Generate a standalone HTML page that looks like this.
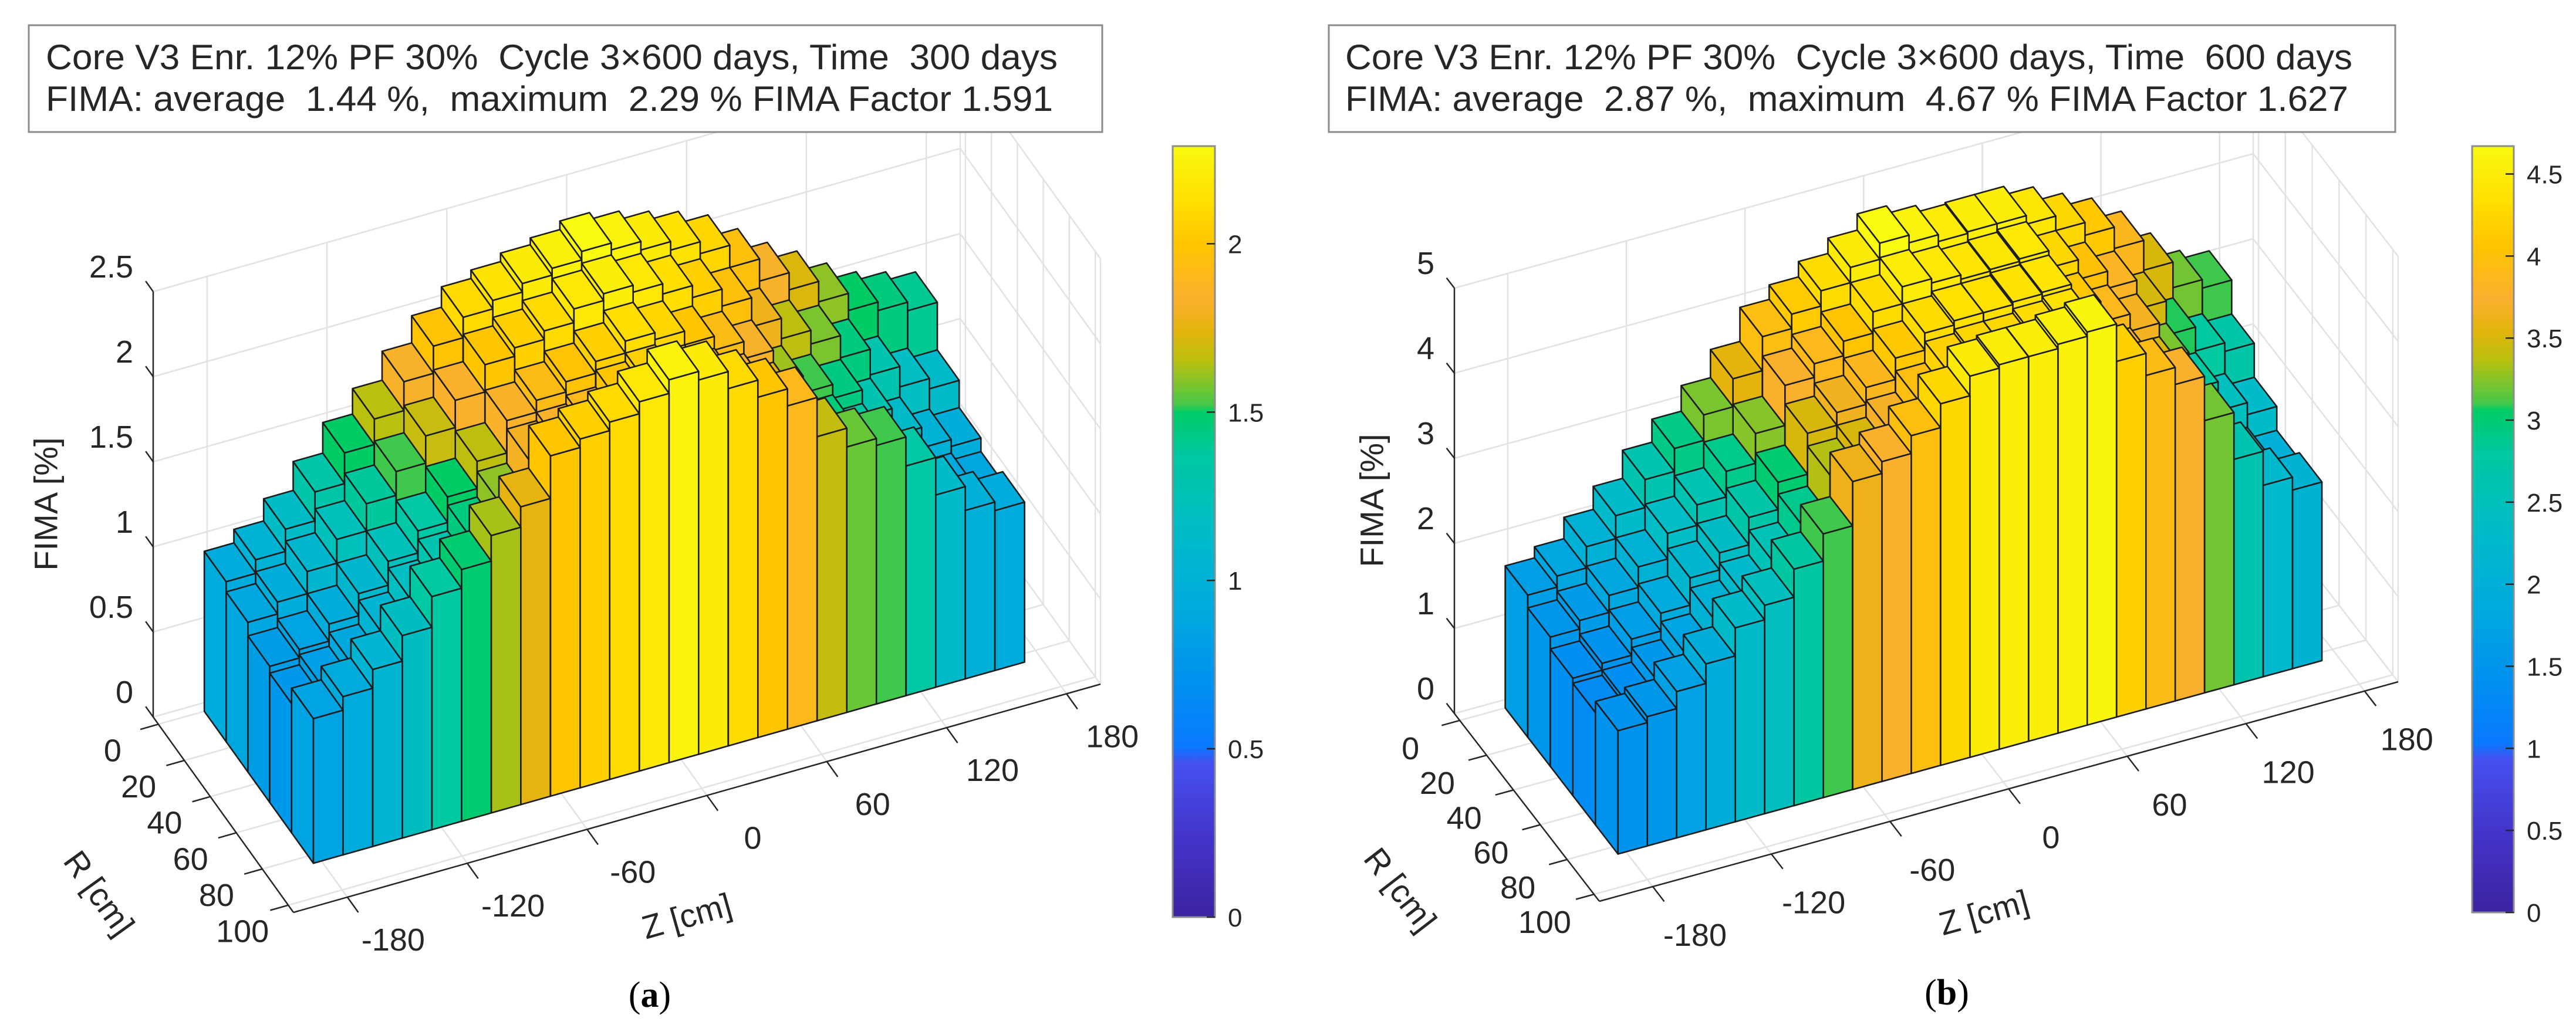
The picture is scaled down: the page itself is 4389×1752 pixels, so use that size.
<!DOCTYPE html>
<html><head><meta charset="utf-8">
<style>
html,body{margin:0;padding:0;background:#fff;}
svg{display:block;font-family:"Liberation Sans",Arial,sans-serif;}
</style></head>
<body>
<svg id="fig" width="4389" height="1752" viewBox="0 0 4389 1752" xmlns="http://www.w3.org/2000/svg">
<defs>
<linearGradient id="cmapGrad" x1="0" y1="1" x2="0" y2="0">
<stop offset="0" stop-color="#3d23a0"/><stop offset="0.1" stop-color="#4333c8"/><stop offset="0.2" stop-color="#4650f0"/>
<stop offset="0.22" stop-color="#0a78ff"/><stop offset="0.3" stop-color="#0090f0"/><stop offset="0.4" stop-color="#00aadd"/>
<stop offset="0.5" stop-color="#00bcc8"/><stop offset="0.6" stop-color="#00c8a0"/><stop offset="0.655" stop-color="#00cc66"/>
<stop offset="0.665" stop-color="#48c848"/><stop offset="0.72" stop-color="#b8c010"/><stop offset="0.76" stop-color="#e4b40c"/>
<stop offset="0.8" stop-color="#fbb030"/><stop offset="0.87" stop-color="#ffc400"/><stop offset="0.93" stop-color="#ffe000"/>
<stop offset="1" stop-color="#f8fa10"/>
</linearGradient>
</defs>
<g id="panelA"></g>
<g id="panelB"></g>
<text x="1107" y="1716" text-anchor="middle" font-family="Liberation Serif, serif" font-size="62">(<tspan font-weight="bold">a</tspan>)</text>
<text x="3317" y="1712" text-anchor="middle" font-family="Liberation Serif, serif" font-size="62">(<tspan font-weight="bold">b</tspan>)</text>
</svg>
<script>
// ---- data ----
const zCenters=[-176.6,-161.8,-146.9,-132.1,-117.3,-102.4,-87.6,-72.8,-57.9,-43.1,-28.3,-13.4,1.4,16.2,31.1,45.9,60.7,75.6,90.4,105.2,120.1,134.9,149.7,164.6];
const rCenters=[8.4,25.2,42,58.8,75.6];
const zTicks=[-180,-120,-60,0,60,120,180];
const rTicks=[0,20,40,60,80,100];
const hTicksA=[0,0.5,1,1.5,2,2.5];
const hTicksB=[0,1,2,3,4,5];
const cbTicksA=[0,0.5,1,1.5,2];
const cbTicksB=[0,0.5,1,1.5,2,2.5,3,3.5,4,4.5];
const aRow0=[0.94,1.02,1.15,1.32,1.50,1.65,1.82,1.98,2.10,2.15,2.20,2.24,2.29,2.25,2.20,2.15,2.08,1.95,1.82,1.72,1.60,1.50,1.45,1.40];
const aRow1=[0.88,0.95,1.08,1.22,1.38,1.52,1.68,1.84,2.00,2.05,2.10,2.18,2.22,2.18,2.12,2.05,1.95,1.78,1.66,1.58,1.45,1.30,1.18,1.12];
const aRow2=[0.80,0.85,0.95,1.08,1.22,1.35,1.50,1.66,1.85,1.92,1.98,2.05,2.12,2.08,2.00,1.92,1.82,1.62,1.52,1.44,1.28,1.12,1.00,0.96];
const aRow3=[0.76,0.82,0.90,1.04,1.18,1.30,1.45,1.60,1.80,1.85,1.90,2.00,2.05,2.00,1.93,1.85,1.75,1.56,1.46,1.36,1.22,1.05,0.92,0.88];
const aRow4=[0.85,0.93,1.04,1.19,1.37,1.48,1.63,1.75,2.00,2.05,2.10,2.17,2.25,2.20,2.10,2.00,1.90,1.67,1.56,1.52,1.35,1.13,0.99,0.94];
const bRow0=[1.67,1.80,2.05,2.32,2.65,2.92,3.22,3.55,3.95,4.12,4.30,4.48,4.67,4.58,4.50,4.52,4.52,4.42,4.25,4.10,3.85,3.50,3.20,3.10];
const bRow1=[1.52,1.62,1.82,2.06,2.36,2.60,2.90,3.25,3.72,3.88,4.05,4.30,4.50,4.45,4.40,4.42,4.45,4.25,4.02,3.82,3.48,3.08,2.80,2.70];
const bRow2=[1.38,1.46,1.65,1.86,2.18,2.38,2.70,3.02,3.50,3.65,3.85,4.10,4.30,4.35,4.35,4.38,4.40,4.10,3.86,3.66,3.22,2.78,2.44,2.30];
const bRow3=[1.32,1.38,1.55,1.76,2.06,2.26,2.55,2.88,3.35,3.50,3.70,3.95,4.20,4.25,4.25,4.30,4.35,3.95,3.70,3.50,3.00,2.50,2.15,2.02];
const bRow4=[1.45,1.52,1.72,1.95,2.28,2.45,2.78,3.10,3.62,3.76,3.97,4.25,4.48,4.52,4.52,4.57,4.62,4.18,3.92,3.72,3.20,2.65,2.25,2.10];

const NS="http://www.w3.org/2000/svg";
const cStops=[[0,"#3d23a0"],[0.1,"#4333c8"],[0.2,"#4650f0"],[0.22,"#0a78ff"],[0.3,"#0090f0"],[0.4,"#00aadd"],[0.5,"#00bcc8"],[0.6,"#00c8a0"],[0.655,"#00cc66"],[0.665,"#48c848"],[0.72,"#b8c010"],[0.76,"#e4b40c"],[0.8,"#fbb030"],[0.87,"#ffc400"],[0.93,"#ffe000"],[1,"#f8fa10"]];
function hx(s){return [parseInt(s.substr(1,2),16),parseInt(s.substr(3,2),16),parseInt(s.substr(5,2),16)];}
function cmap(t){t=Math.max(0,Math.min(1,t));
 for(let i=1;i<cStops.length;i++){if(t<=cStops[i][0]){const a=cStops[i-1],b=cStops[i];const f=(t-a[0])/(b[0]-a[0]);const ca=hx(a[1]),cb=hx(b[1]);
  return "rgb("+ca.map((v,k)=>Math.round(v+(cb[k]-v)*f)).join(",")+")";}}
 return cStops[cStops.length-1][1];}
function mk(tag,parent,o){const e=document.createElementNS(NS,tag);for(const k in o)e.setAttribute(k,o[k]);parent.appendChild(e);return e;}

function drawPanel(g,cfg,rows,hTicks,cbTicks){
 const zlo=-207,zhi=197,rlo=-4,rhi=104,zw=14.83,rw=16.8;
 function P(z,r,h){const u=(z-zlo)/(zhi-zlo),v=(r-rlo)/(rhi-rlo);
  return [cfg.ox+u*cfg.uzx+v*cfg.urx, cfg.oy+u*cfg.uzy+v*cfg.ury-h*cfg.hs];}
 function pts(a){return a.map(p=>p[0].toFixed(1)+","+p[1].toFixed(1)).join(" ");}
 function line(p,q,col,w,name){const l=mk("line",g,{x1:p[0],y1:p[1],x2:q[0],y2:q[1],stroke:col,"stroke-width":w});
  
  return l;}
 const hmax=hTicks[hTicks.length-1];
 const gc="#e2e2e2";
 hTicks.forEach(h=>{line(P(zlo,rlo,h),P(zhi,rlo,h),gc,2.5,'grid-back-h');line(P(zhi,rlo,h),P(zhi,rhi,h),gc,2.5,'grid-side-h');});
 zTicks.forEach(z=>{line(P(z,rlo,0),P(z,rlo,hmax),gc,2.5,'grid-back-z');line(P(z,rlo,0),P(z,rhi,0),gc,2.5,'grid-floor-z');});
 rTicks.forEach(r=>{line(P(zhi,r,0),P(zhi,r,hmax),gc,2.5,'grid-side-r');line(P(zlo,r,0),P(zhi,r,0),gc,2.5,'grid-floor-r');});
 line(P(zhi,rlo,0),P(zhi,rlo,hmax),gc,2.5,'grid-corner');line(P(zhi,rhi,0),P(zhi,rhi,hmax),gc,2.5,'grid-corner');
 for(let j=0;j<rows.length;j++){
  for(let k=zCenters.length-1;k>=0;k--){
   const v=rows[j][k];const z0=zCenters[k]-zw/2,z1=zCenters[k]+zw/2,r0=rCenters[j]-rw/2,r1=rCenters[j]+rw/2;
   const col=cmap(v/cfg.cmax);
   const bg=mk("g",g,{fill:col,stroke:"#1c1c1c","stroke-width":2.6,"stroke-linejoin":"round"});
   
   
   mk("polygon",bg,{points:pts([P(z0,r0,0),P(z0,r1,0),P(z0,r1,v),P(z0,r0,v)])});
   mk("polygon",bg,{points:pts([P(z0,r1,0),P(z1,r1,0),P(z1,r1,v),P(z0,r1,v)])});
   mk("polygon",bg,{points:pts([P(z0,r0,v),P(z1,r0,v),P(z1,r1,v),P(z0,r1,v)])});
  }}
 const ac="#262626";
 line(P(zlo,rlo,0),P(zlo,rlo,hmax),ac,2.5,'fima-axis-line');
 line(P(zlo,rlo,0),P(zlo,rhi,0),ac,2.5,'r-axis-line');
 line(P(zlo,rhi,0),P(zhi,rhi,0),ac,2.5,'z-axis-line');
 const urL=Math.hypot(cfg.urx,cfg.ury),uzL=Math.hypot(cfg.uzx,cfg.uzy);
 const ur=[cfg.urx/urL,cfg.ury/urL],uz=[cfg.uzx/uzL,cfg.uzy/uzL];
 hTicks.forEach(h=>{const p=P(zlo,rlo,h);line(p,[p[0]-ur[0]*22,p[1]-ur[1]*22],ac,2.5,'fima-tick');
  const t=mk("text",g,{x:p[0]-34,y:p[1]-24,"text-anchor":"end","font-size":54,fill:"#262626"});t.textContent=String(h);
  
  });
 zTicks.forEach(z=>{const p=P(z,rhi,0);line(p,[p[0]+ur[0]*32,p[1]+ur[1]*32],ac,2.5,'z-tick');
  const t=mk("text",g,{x:p[0]+cfg.zlx,y:p[1]+cfg.zly+19,"text-anchor":"middle","font-size":54,fill:"#262626"});t.textContent=String(z);
  
  });
 rTicks.forEach(r=>{const p=P(zlo,r,0);line(p,[p[0]-uz[0]*32,p[1]-uz[1]*32],ac,2.5,'r-tick');
  const t=mk("text",g,{x:p[0]+cfg.rlx,y:p[1]+cfg.rly+19,"text-anchor":"middle","font-size":54,fill:"#262626"});t.textContent=String(r);
  
  });
 const at=[["FIMA [%]",cfg.fx,cfg.fy,-90,'fima-axis-title'],["R [cm]",cfg.rx,cfg.ry,Math.atan2(cfg.ury,cfg.urx)*180/Math.PI,'r-axis-title'],["Z [cm]",cfg.zx,cfg.zy,Math.atan2(cfg.uzy,cfg.uzx)*180/Math.PI,'z-axis-title']];
 at.forEach(a=>{const t=mk("text",g,{x:a[1],y:a[2],"text-anchor":"middle","dominant-baseline":"central","font-size":56,fill:"#262626",transform:"rotate("+a[3].toFixed(1)+" "+a[1]+" "+a[2]+")"});t.textContent=a[0];
  
  });
 const cb=mk("rect",g,{x:cfg.cbx,y:cfg.cby0,width:cfg.cbw,height:cfg.cby1-cfg.cby0,fill:"url(#cmapGrad)",stroke:"#8c8c8c","stroke-width":3});
 
 
 cbTicks.forEach(v=>{const y=cfg.cby1-(v/cfg.cmax)*(cfg.cby1-cfg.cby0);
  line([cfg.cbx+cfg.cbw-14,y],[cfg.cbx+cfg.cbw,y],ac,2.5,'colorbar-tick');
  const t=mk("text",g,{x:cfg.cbx+cfg.cbw+22,y:y+16,"font-size":44,fill:"#262626"});t.textContent=String(v);
  
  });
 const tb=mk("rect",g,{x:cfg.tbx,y:43,width:cfg.tbw,height:182,fill:"#fff",stroke:"#8a8a8a","stroke-width":3});
 
 
 const t1=mk("text",g,{x:cfg.tx,y:118,"font-size":60,fill:"#262626",textLength:cfg.t1w,lengthAdjust:"spacingAndGlyphs","xml:space":"preserve",style:"white-space:pre"});t1.textContent=cfg.line1;
 
 
 const t2=mk("text",g,{x:cfg.tx,y:189,"font-size":60,fill:"#262626",textLength:cfg.t2w,lengthAdjust:"spacingAndGlyphs",style:"white-space:pre"});t2.textContent=cfg.line2;
 
 
}

drawPanel(document.getElementById("panelA"),
 {ox:261,oy:1222,uzx:1375,uzy:-389,urx:239,ury:333,hs:290,cmax:2.29,zlx:78,zly:72,rlx:-78,rly:44,
  fx:78,fy:859,rx:169,ry:1522,zx:1170,zy:1561,cbx:1998,cbw:72,cby0:249,cby1:1563,
  tbx:49,tbw:1829,tx:78,t1w:1724,t2w:1716,
  line1:"Core V3 Enr. 12% PF 30%  Cycle 3×600 days, Time  300 days",
  line2:"FIMA: average  1.44 %,  maximum  2.29 % FIMA Factor 1.591"},
 [aRow0,aRow1,aRow2,aRow3,aRow4],hTicksA,cbTicksA);
drawPanel(document.getElementById("panelB"),
 {ox:2478,oy:1216,uzx:1361,uzy:-374,urx:247,ury:320,hs:145,cmax:4.67,zlx:72,zly:82,rlx:-84,rly:47,
  fx:2337,fy:853,rx:2386,ry:1516,zx:3380,zy:1555,cbx:4212,cbw:71,cby0:249,cby1:1555,
  tbx:2264,tbw:1817,tx:2292,t1w:1716,t2w:1709,
  line1:"Core V3 Enr. 12% PF 30%  Cycle 3×600 days, Time  600 days",
  line2:"FIMA: average  2.87 %,  maximum  4.67 % FIMA Factor 1.627"},
 [bRow0,bRow1,bRow2,bRow3,bRow4],hTicksB,cbTicksB);
</script>
</body></html>
